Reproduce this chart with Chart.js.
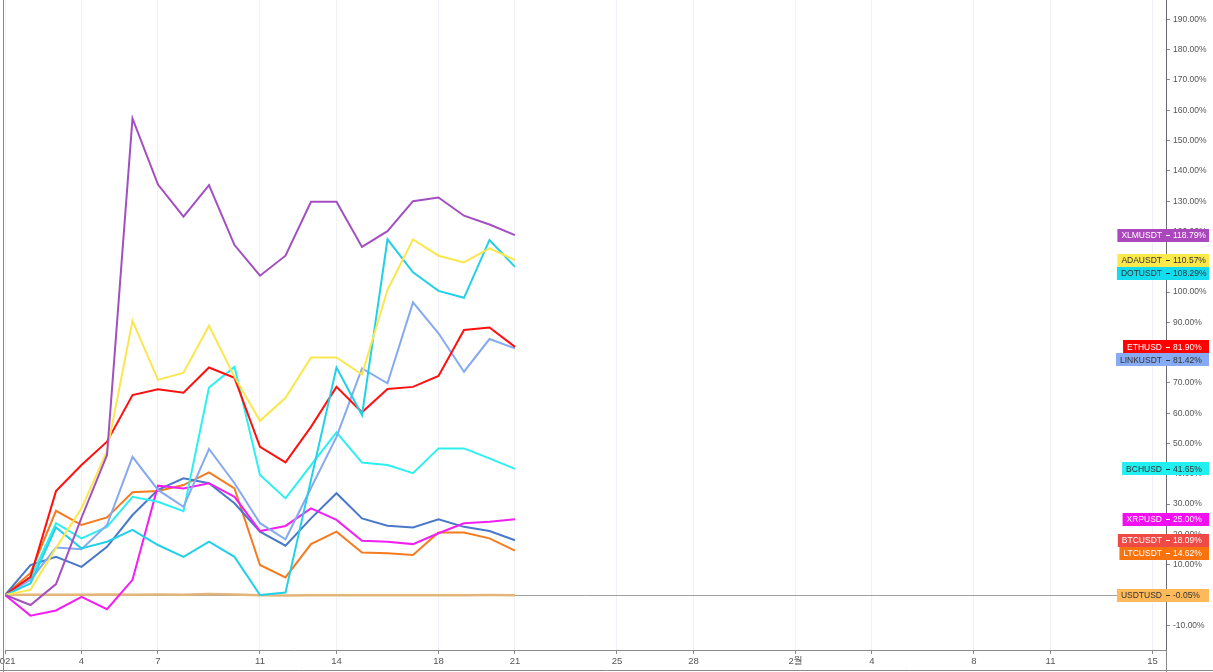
<!DOCTYPE html>
<html>
<head>
<meta charset="utf-8">
<script src="https://cdn.jsdelivr.net/npm/chart.js"></script>
<style>
  html, body { margin: 0; padding: 0; background: #fff; }
  #wrap { width: 1213px; height: 672px; }
</style>
</head>
<body>
<div id="wrap"><canvas id="chart" width="1213" height="672"></canvas></div>
<script>
// days since 1 Jan 2021
const days = [0, 1, 2, 3, 4, 5, 6, 7, 8, 9, 10, 11, 12, 13, 14, 15, 16, 17, 18, 19, 20];
const xTickDays = [0, 3, 6, 10, 13, 17, 20, 24, 27, 31, 34, 38, 41, 45];
const xTickLabels = ['2021', '4', '7', '11', '14', '18', '21', '25', '28', '2월', '4', '8', '11', '15'];
const yTicks = [-10, 0, 10, 20, 30, 40, 50, 60, 70, 80, 90, 100, 110, 120, 130, 140, 150, 160, 170, 180, 190];

// % change vs. first day
const xlm  = [0, -3.3, 3.6, 25.5, 46.2, 157.3, 135.5, 124.9, 135.3, 115.5, 105.4, 112, 129.8, 129.8, 114.9, 120.1, 130, 131.2, 125.2, 122.3, 118.79];
const ada  = [0, 1.7, 15.5, 28.6, 47.5, 90.5, 71, 73.4, 88.9, 72, 57.5, 65.1, 78.4, 78.4, 72.8, 100.7, 117.4, 112, 109.8, 114.4, 110.57];
const dot  = [0, 3.8, 22.3, 15.4, 17.6, 21.5, 16.5, 12.6, 17.6, 12.6, 0, 0.8, 38, 75.1, 59.4, 117.4, 106.5, 100.4, 98.1, 117.2, 108.29];
const eth  = [0, 6, 34.3, 42.9, 50.6, 66, 67.9, 66.8, 75.1, 71.7, 48.9, 43.8, 55.5, 68.7, 60.3, 68, 68.7, 72.3, 87.5, 88.3, 81.9];
const link = [0, 5, 15.7, 15.1, 23.1, 45.6, 34.7, 29.1, 48.2, 36.9, 23.7, 18.4, 35.3, 52.2, 74.8, 69.9, 96.6, 86.4, 73.7, 84.5, 81.42];
const bch  = [0, 5.5, 23.7, 18.7, 22.5, 32.4, 30.8, 27.7, 68.5, 75.3, 39.6, 31.9, 42.9, 53.7, 43.7, 42.9, 40.2, 48.4, 48.4, 45.1, 41.65];
const xrp  = [0, -6.8, -5.1, -0.6, -4.7, 5, 36.1, 35.2, 36.9, 32.4, 21.1, 22.8, 28.6, 24.8, 17.9, 17.6, 16.8, 20.4, 23.7, 24.2, 25.0];
const btc  = [0, 9.9, 12.6, 9.3, 15.9, 26.4, 34.7, 38.5, 36.9, 30.3, 20.9, 16.3, 25.3, 33.6, 25.3, 22.9, 22.3, 25, 22.5, 21.1, 18.09];
const ltc  = [0, 7.3, 27.8, 23.1, 25.6, 33.9, 34.3, 36.3, 40.5, 35.2, 9.9, 5.8, 16.8, 20.9, 14, 13.8, 13.2, 20.6, 20.6, 18.7, 14.62];
const usdt = [0, 0.1, 0.05, 0.1, 0.2, 0.1, 0.15, 0.1, 0.3, 0.2, -0.1, -0.15, -0.1, -0.1, -0.05, -0.1, -0.05, -0.1, -0.05, 0, -0.05];

const series = [
  { name: 'XLMUSDT',  data: xlm,  line: '#a24fc0', bg: '#ab47bc', fg: '#fff' },
  { name: 'ADAUSDT',  data: ada,  line: '#fbe74d', bg: '#fbe84a', fg: '#333' },
  { name: 'DOTUSDT',  data: dot,  line: '#22d0e8', bg: '#14dcef', fg: '#333' },
  { name: 'ETHUSD',   data: eth,  line: '#ff1010', bg: '#ff0000', fg: '#fff' },
  { name: 'LINKUSDT', data: link, line: '#85aaf0', bg: '#86abf2', fg: '#333' },
  { name: 'BCHUSD',   data: bch,  line: '#2cf0f0', bg: '#22f0f0', fg: '#333' },
  { name: 'XRPUSD',   data: xrp,  line: '#f21ff2', bg: '#f010f0', fg: '#fff' },
  { name: 'BTCUSDT',  data: btc,  line: '#4a78c8', bg: '#ef4a45', fg: '#fff' },
  { name: 'LTCUSDT',  data: ltc,  line: '#f47b20', bg: '#f8720e', fg: '#fff' },
  { name: 'USDTUSD',  data: usdt, line: '#e3b57a', bg: '#fdb95a', fg: '#333' }
];

const FONT = '"Liberation Sans", "Noto Sans CJK KR", sans-serif';

// frame lines, zero line and last-value badges on the price scale
const frame = {
  id: 'frame',
  beforeDatasetsDraw(chart) {
    const { ctx, chartArea: a, scales: { x, y } } = chart;
    const y0 = Math.round(y.getPixelForValue(0)) + 0.5;
    ctx.save();
    ctx.strokeStyle = '#a0a0a0';
    ctx.lineWidth = 1;
    ctx.beginPath();
    ctx.moveTo(x.getPixelForValue(days[0]), y0);
    ctx.lineTo(a.right, y0);
    ctx.stroke();
    ctx.restore();
  },
  afterDraw(chart) {
    const { ctx, chartArea: a, scales: { y } } = chart;
    const W = chart.width, H = chart.height;
    ctx.save();
    ctx.strokeStyle = '#8a8a8a';
    ctx.lineWidth = 1;
    ctx.beginPath();
    ctx.moveTo(3.5, 0); ctx.lineTo(3.5, H);
    ctx.moveTo(0, H - 1.5); ctx.lineTo(W, H - 1.5);
    ctx.moveTo(Math.round(a.right) + 0.5, a.bottom); ctx.lineTo(Math.round(a.right) + 0.5, H);
    ctx.stroke();

    const items = series.map(s => ({ ...s, last: s.data[s.data.length - 1] }))
      .sort((p, q) => q.last - p.last);
    const h = 13;
    let prev = -Infinity;
    ctx.font = '8.5px ' + FONT;
    ctx.textBaseline = 'middle';
    const ax = Math.round(a.right);
    items.forEach(it => {
      let cy = y.getPixelForValue(it.last);
      if (cy < prev + h) cy = prev + h;
      prev = cy;
      const nameW = ctx.measureText(it.name).width;
      const left = ax - 4 - nameW - 4;
      const right = ax + 43;
      ctx.fillStyle = it.bg;
      ctx.fillRect(left, Math.round(cy - h / 2), right - left, h);
      ctx.fillStyle = it.fg;
      ctx.textAlign = 'right';
      ctx.fillText(it.name, ax - 4, cy + 0.5);
      ctx.textAlign = 'left';
      ctx.fillText(it.last.toFixed(2) + '%', ax + 7, cy + 0.5);
      ctx.strokeStyle = it.fg;
      ctx.beginPath();
      ctx.moveTo(ax, Math.round(cy) + 0.5);
      ctx.lineTo(ax + 4, Math.round(cy) + 0.5);
      ctx.stroke();
    });
    ctx.restore();
  }
};

new Chart(document.getElementById('chart'), {
  type: 'line',
  data: {
    datasets: series.map(s => ({
      label: s.name,
      data: s.data.map((v, i) => ({ x: days[i], y: v })),
      borderColor: s.line,
      borderWidth: s.name === 'USDTUSD' ? 2.5 : 2,
      pointRadius: 0,
      tension: 0,
      fill: false
    }))
  },
  options: {
    responsive: false,
    animation: false,
    devicePixelRatio: 1,
    layout: { padding: { left: 5, right: 0, top: 0, bottom: 0 } },
    plugins: { legend: { display: false }, tooltip: { enabled: false } },
    scales: {
      x: {
        type: 'linear',
        min: 0,
        max: 45.53,
        afterBuildTicks: s => { s.ticks = xTickDays.map(v => ({ value: v })); },
        afterFit: s => { s.height = 22; s.paddingLeft = 0; s.paddingRight = 0; },
        ticks: {
          autoSkip: false,
          maxRotation: 0,
          padding: 2,
          color: '#555',
          font: { family: FONT, size: 9.5 },
          callback: v => xTickLabels[xTickDays.indexOf(v)]
        },
        grid: { color: '#eef1f6', tickColor: '#8a8a8a', tickLength: 4 },
        border: { color: '#8a8a8a' }
      },
      y: {
        position: 'right',
        min: -18.15,
        max: 196.4,
        afterBuildTicks: s => { s.ticks = yTicks.map(v => ({ value: v })); },
        afterFit: s => { s.width = 47; s.paddingTop = 0; s.paddingBottom = 0; },
        ticks: {
          padding: 3,
          color: '#555',
          font: { family: FONT, size: 8.5 },
          callback: v => v.toFixed(2) + '%'
        },
        grid: { drawOnChartArea: false, tickColor: '#8a8a8a', tickLength: 4 },
        border: { color: '#6a6a6a' }
      }
    }
  },
  plugins: [frame]
});
</script>
</body>
</html>
